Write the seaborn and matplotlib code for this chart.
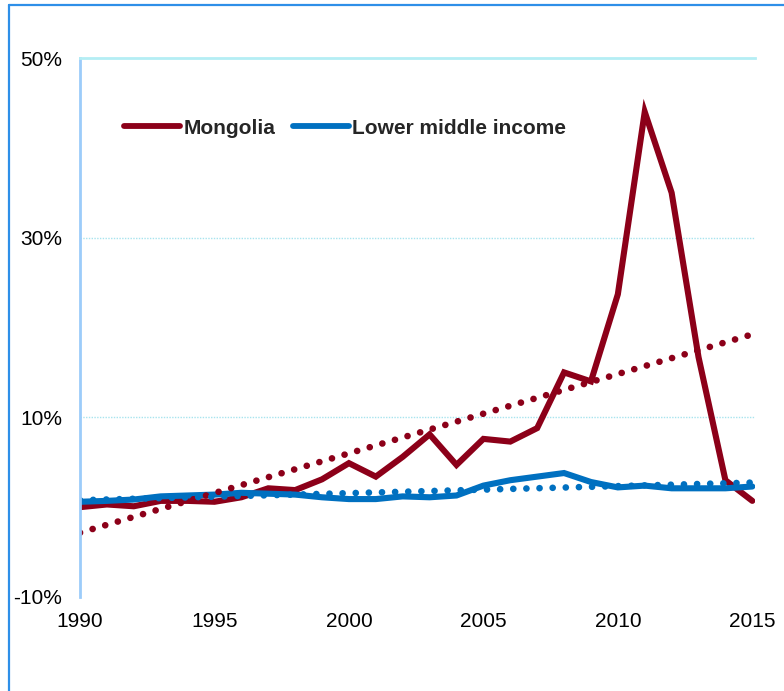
import numpy as np
import pandas as pd
import matplotlib
matplotlib.use("Agg")
import matplotlib.pyplot as plt
import seaborn as sns
from matplotlib.lines import Line2D

years = list(range(1990, 2016))
mongolia = [0.0, 0.3, 0.1, 0.7, 0.7, 0.6, 1.1, 2.1, 1.9, 3.1,
            4.9, 3.4, 5.6, 8.1, 4.7, 7.6, 7.3, 8.8, 15.0, 14.0,
            23.7, 44.0, 35.0, 16.7, 3.0, 0.7]
lower_middle = [0.6, 0.7, 0.85, 1.2, 1.3, 1.4, 1.6, 1.5, 1.4, 1.1,
                0.9, 0.9, 1.2, 1.1, 1.3, 2.4, 3.0, 3.4, 3.8, 2.8,
                2.2, 2.4, 2.1, 2.1, 2.1, 2.3]
series_names = ["Mongolia", "Lower middle income"]
yticks = [-10, 10, 30, 50]
xticks = [1990, 1995, 2000, 2005, 2010, 2015]

red = "#8C0019"
blue = "#0070C0"

sns.set_style("white")
plt.rcParams["font.family"] = ["Liberation Sans", "DejaVu Sans"]

df = pd.DataFrame({"year": years * 2,
                   "value": mongolia + lower_middle,
                   "series": [series_names[0]] * len(years) + [series_names[1]] * len(years)})

fig = plt.figure(figsize=(7.84, 6.91), dpi=100)
ax = fig.add_axes([80 / 784, 1 - 597 / 691, 675 / 784, 539 / 691])

sns.lineplot(data=df, x="year", y="value", hue="series", hue_order=series_names,
             palette=[red, blue], linewidth=4.4, ax=ax, legend=False,
             solid_capstyle="round", solid_joinstyle="miter")

# linear trend lines, dotted
dot = (0, (0.01, 1.96))
for name, col in zip(series_names, [red, blue]):
    sns.regplot(data=df[df["series"] == name], x="year", y="value", ci=None,
                scatter=False, ax=ax, truncate=True,
                line_kws=dict(color=col, linewidth=4.8, linestyle=dot,
                              dash_capstyle="round"))

ax.set_xlim(1990, 2015.1)
ax.set_ylim(-10, 50)
ax.set_yticks(yticks)
ax.set_yticklabels([f"{v}%" for v in yticks])
ax.set_xticks(xticks)
ax.set_xlabel("")
ax.set_ylabel("")
ax.tick_params(axis="both", length=0, labelsize=15, colors="black")
ax.tick_params(axis="y", pad=13)
ax.tick_params(axis="x", pad=11)

for y in [10, 30]:
    ax.axhline(y, color="#A8E4EE", linewidth=1, linestyle=(0, (1, 1)), zorder=0)
for s in ["right", "bottom"]:
    ax.spines[s].set_visible(False)
ax.spines["top"].set_color("#B4EEF4")
ax.spines["top"].set_linewidth(2)
ax.spines["left"].set_color("#9CCCFA")
ax.spines["left"].set_linewidth(2)

handles = [Line2D([], [], color=red, linewidth=4.2, solid_capstyle="round"),
           Line2D([], [], color=blue, linewidth=4.2, solid_capstyle="round")]
leg = fig.legend(handles, series_names, loc="center left",
                 bbox_to_anchor=(124 / 784, 1 - 128 / 691), ncol=2, frameon=False,
                 handlelength=2.7, handletextpad=0.15, columnspacing=0.85,
                 borderpad=0, borderaxespad=0, prop=dict(size=15, weight="bold"))

# outer frame (only left and top edges are visible)
fig.add_artist(Line2D([8.5 / 784, 8.5 / 784], [0, 1 - 5 / 691], color="#2E8FE8", linewidth=1.6))
fig.add_artist(Line2D([8.5 / 784, 1], [1 - 5 / 691, 1 - 5 / 691], color="#2E8FE8", linewidth=1.6))

fig.savefig("out.png", dpi=100)
